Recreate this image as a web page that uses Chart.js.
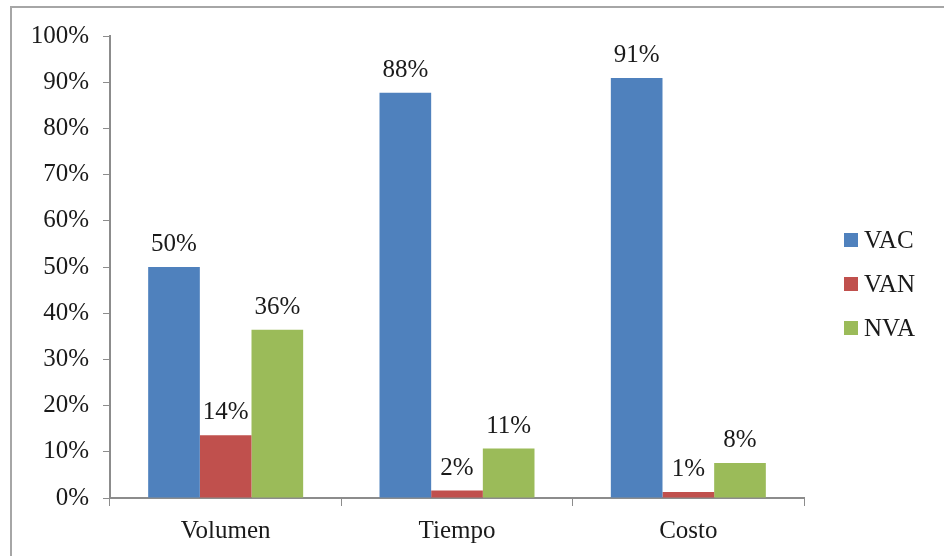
<!DOCTYPE html>
<html>
<head>
<meta charset="utf-8">
<script src="https://cdn.jsdelivr.net/npm/chart.js@4/dist/chart.umd.min.js"></script>
<style>
  html, body { margin: 0; padding: 0; background: #fff; }
  #wrap { position: relative; width: 944px; height: 556px; overflow: hidden; }
  #frame { position: absolute; left: 10px; top: 6px; width: 960px; height: 600px; border: 2px solid #a6a6a6; box-sizing: border-box; }
  canvas { position: absolute; left: 0; top: 0; }
</style>
</head>
<body>
<div id="wrap">
  <div id="frame"></div>
  <canvas id="c" width="944" height="556"></canvas>
</div>
<script>
const categories = ['Volumen', 'Tiempo', 'Costo'];
const seriesNames = ['VAC', 'VAN', 'NVA'];
const vacValues = [50, 87.7, 90.9];
const vanValues = [13.6, 1.6, 1.3];
const nvaValues = [36.4, 10.7, 7.6];
const seriesColors = ['#4F81BD', '#C0504D', '#9BBB59'];
const yTicks = [0, 10, 20, 30, 40, 50, 60, 70, 80, 90, 100];

const FONT = "'Liberation Serif', 'Times New Roman', serif";
const FS = 25;
const axisColor = '#8c8c8c';

const dataLabels = {
  id: 'dataLabels',
  afterDatasetsDraw(chart) {
    const ctx = chart.ctx;
    ctx.save();
    ctx.font = FS + 'px ' + FONT;
    ctx.fillStyle = '#1a1a1a';
    ctx.textAlign = 'center';
    ctx.textBaseline = 'alphabetic';
    chart.data.datasets.forEach((ds, i) => {
      chart.getDatasetMeta(i).data.forEach((bar, j) => {
        ctx.fillText(Math.round(ds.data[j]) + '%', bar.x, bar.y - 16);
      });
    });
    ctx.restore();
  }
};

const sideLegend = {
  id: 'sideLegend',
  afterDraw(chart) {
    const ctx = chart.ctx;
    const area = chart.chartArea;
    ctx.save();
    ctx.font = FS + 'px ' + FONT;
    ctx.textBaseline = 'middle';
    ctx.textAlign = 'left';
    const x0 = area.right + 40;
    const n = chart.data.datasets.length;
    const gap = 44;
    const cy = (area.top + area.bottom) / 2 + 17;
    chart.data.datasets.forEach((ds, i) => {
      const y = cy + (i - (n - 1) / 2) * gap;
      ctx.fillStyle = ds.backgroundColor;
      ctx.fillRect(x0, y - 7, 14, 14);
      ctx.fillStyle = '#1a1a1a';
      ctx.fillText(ds.label, x0 + 20, y + 1);
    });
    ctx.restore();
  }
};

new Chart(document.getElementById('c'), {
  type: 'bar',
  data: {
    labels: categories,
    datasets: [
      { label: seriesNames[0], data: vacValues, backgroundColor: seriesColors[0] },
      { label: seriesNames[1], data: vanValues, backgroundColor: seriesColors[1] },
      { label: seriesNames[2], data: nvaValues, backgroundColor: seriesColors[2] }
    ]
  },
  options: {
    responsive: false,
    animation: false,
    devicePixelRatio: 1,
    layout: { padding: { left: 0, right: 140, top: 36, bottom: 0 } },
    datasets: { bar: { categoryPercentage: 0.67, barPercentage: 1 } },
    plugins: { legend: { display: false }, tooltip: { enabled: false } },
    scales: {
      x: {
        grid: { display: true, drawOnChartArea: false, drawTicks: true, tickLength: 8, color: axisColor, offset: true },
        border: { display: true, color: axisColor, width: 2 },
        ticks: { font: { family: FONT, size: FS }, color: '#1a1a1a', padding: 10, maxRotation: 0 },
        afterFit(scale) { scale.height = 58; }
      },
      y: {
        min: 0, max: 100,
        afterBuildTicks(scale) { scale.ticks = yTicks.map(v => ({ value: v })); },
        grid: { display: true, drawOnChartArea: false, drawTicks: true, tickLength: 7, color: axisColor },
        border: { display: true, color: axisColor, width: 2 },
        ticks: { font: { family: FONT, size: FS }, color: '#1a1a1a', padding: 14, callback: v => v + '%' },
        afterFit(scale) { scale.width = 110; }
      }
    }
  },
  plugins: [dataLabels, sideLegend]
});
</script>
</body>
</html>
